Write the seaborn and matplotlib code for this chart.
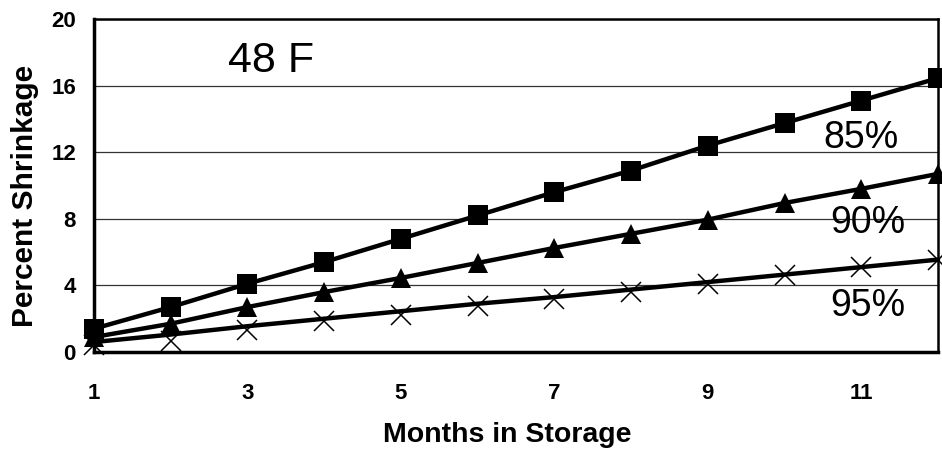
import numpy as np
import pandas as pd
import matplotlib
matplotlib.use('Agg')
import matplotlib.pyplot as plt
import seaborn as sns

months = [1, 2, 3, 4, 5, 6, 7, 8, 9, 10, 11, 12]
rh_85 = [1.4, 2.7, 4.1, 5.4, 6.8, 8.2, 9.6, 10.9, 12.4, 13.75, 15.1, 16.45]
rh_90 = [0.9, 1.7, 2.7, 3.6, 4.45, 5.35, 6.25, 7.1, 7.95, 8.95, 9.8, 10.7]
rh_95 = [0.4, 0.65, 1.3, 1.85, 2.25, 2.75, 3.2, 3.6, 4.1, 4.6, 5.1, 5.5]
# the 95% curve drawn in the chart sits a little above its markers
rh_95_line = [0.6, 1.05, 1.55, 2.0, 2.45, 2.9, 3.3, 3.75, 4.2, 4.65, 5.1, 5.55]
series_labels = ['85%', '90%', '95%']

sns.set_style('white')
plt.rcParams['font.family'] = ['Liberation Sans', 'DejaVu Sans']
plt.rcParams['text.color'] = 'black'
plt.rcParams['axes.labelcolor'] = 'black'
plt.rcParams['xtick.color'] = 'black'
plt.rcParams['ytick.color'] = 'black'

fig = plt.figure(figsize=(9.42, 4.58), dpi=100)
ax = fig.add_axes([0.0998, 0.2314, 0.8960, 0.7271])

# lines
for vals in [rh_85, rh_90, rh_95_line]:
    sns.lineplot(x=months, y=vals, ax=ax, color='black', linewidth=3.2,
                 clip_on=False, zorder=3)

# markers
styles = [
    dict(marker='s', markersize=14, markeredgewidth=0),
    dict(marker='^', markersize=14, markeredgewidth=0),
    dict(marker='x', markersize=14, markeredgewidth=1.1),
]
for vals, st in zip([rh_85, rh_90, rh_95], styles):
    ax.plot(months, vals, linestyle='none', color='black',
            markerfacecolor='black', markeredgecolor='black',
            clip_on=False, zorder=4, **st)

ax.set_xlim(1, 12)
ax.set_ylim(0, 20)
ax.set_xticks([1, 3, 5, 7, 9, 11])
ax.set_yticks([0, 4, 8, 12, 16, 20])
ax.yaxis.grid(True, color='#333333', linewidth=0.9)
ax.set_axisbelow(True)

for s in ['left', 'bottom']:
    ax.spines[s].set_linewidth(2.5)
    ax.spines[s].set_color('black')
for s in ['top', 'right']:
    ax.spines[s].set_linewidth(1.8)
    ax.spines[s].set_color('black')

ax.tick_params(axis='both', which='major', direction='out', length=6,
               width=1, color='black', labelsize=16)
ax.tick_params(axis='x', pad=16)
ax.tick_params(axis='y', pad=7)
for lab in ax.get_xticklabels() + ax.get_yticklabels():
    lab.set_fontweight('bold')

ax.set_xlabel('Months in Storage', fontsize=20.5, fontweight='bold')
ax.set_ylabel('Percent Shrinkage', fontsize=21.5, fontweight='bold')
ax.xaxis.set_label_coords(0.49, -0.21)
ax.yaxis.set_label_coords(-0.065, 0.47)

# series / temperature annotations
ax.text(3.31, 16.82, '48 F', fontsize=31, ha='center', va='baseline')
for lab, xx, yy in zip(series_labels, [10.99, 11.09, 11.09], [12.25, 7.15, 2.16]):
    ax.text(xx, yy, lab, fontsize=27, ha='center', va='baseline')

fig.savefig('out.png', dpi=100)
